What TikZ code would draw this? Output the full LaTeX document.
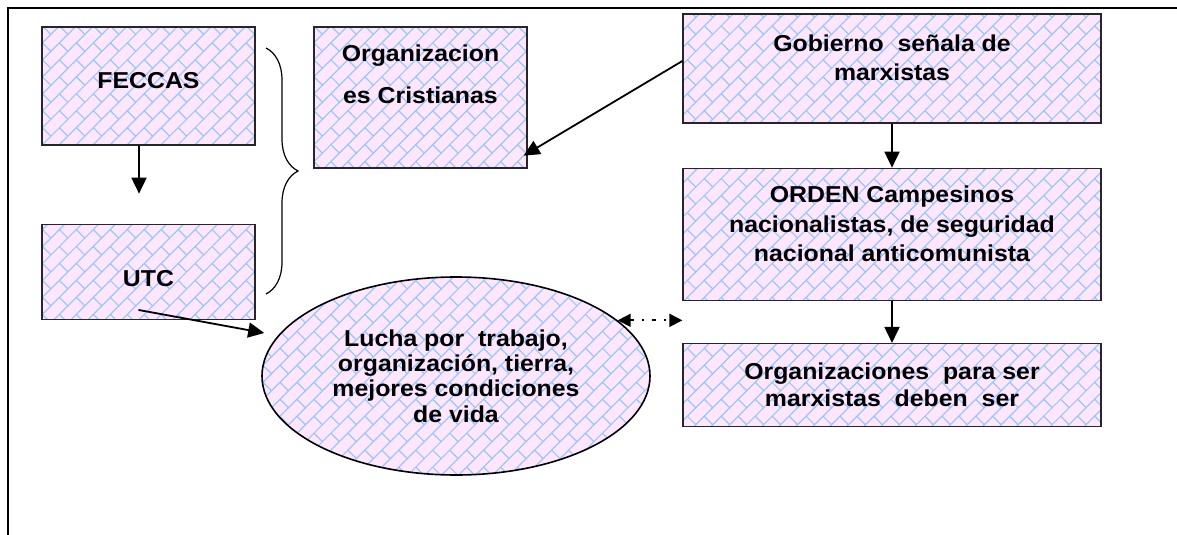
\documentclass[tikz,border=0pt]{standalone}
\usepackage{fontspec}
\setmainfont{Liberation Sans}[FakeStretch=1.08]
\usetikzlibrary{arrows.meta, positioning, shapes.geometric, decorations.pathreplacing, patterns.meta}

\definecolor{boxpink}{RGB}{255,230,255}
\definecolor{brickblue}{RGB}{150,200,250}

\tikzdeclarepattern{
  name=bricks,
  type=colored,
  bottom left={(-.1pt,-.1pt)},
  top right={(24.1pt,24.1pt)},
  tile size={(24pt,24pt)},
  tile transformation={rotate=45},
  code={
    \draw[brickblue, line width=1.2pt]
      (0pt,6pt) -- (24pt,6pt) (0pt,18pt) -- (24pt,18pt)
      (6pt,6pt) -- (6pt,18pt)
      (18pt,18pt) -- (18pt,24pt) (18pt,0pt) -- (18pt,6pt);
  }
}

\begin{document}
\begin{tikzpicture}[x=1pt, y=-1pt,
  box/.style={rectangle, draw=black!85, line width=1.3pt, preaction={fill=boxpink},
    pattern=bricks, align=center, inner sep=0pt, minimum width=418pt,
    font=\bfseries\fontsize{23}{29.5}\selectfont},
  arr/.style={-{Triangle[length=16pt,width=15pt]}, line width=1.8pt},
  ddarr/.style={{Triangle[length=13pt,width=13pt]}-{Triangle[length=13pt,width=13pt]},
    line width=1.8pt, dash pattern=on 4pt off 8pt on 2pt off 8pt}]

  \useasboundingbox (0,0) rectangle (1177,535);
  \draw[line width=2pt] (1190,8) -- (8,8) -- (8,545);

  % left column
  \node[box, minimum width=213pt, minimum height=118pt, text depth=12pt] (feccas) at (148.5,86) {FECCAS};
  \node[box, minimum width=213pt, minimum height=95pt, text height=29.5pt, text depth=0pt,
    below=78pt of feccas] (utc) {UTC};
  \node[box, minimum width=213pt, minimum height=141pt] (orgc) at (420.5,97.5)
    {Organizacion\\[12.5pt]es Cristianas\vspace{46pt}};

  % right column
  \node[box, minimum height=109pt] (gob) at (892,68.5) {Gobierno~ señala de\\marxistas\vspace{21pt}};
  \node[box, minimum height=132pt, below=44pt of gob] (orden)
    {ORDEN Campesinos\\nacionalistas, de seguridad\\nacional anticomunista\vspace{21pt}};
  \node[box, minimum height=83pt, below=42pt of orden] (elim)
    {Organizaciones~ para ser\\[-2.5pt]marxistas~ deben~ ser};

  \node[ellipse, draw=black, line width=1.6pt, preaction={fill=boxpink}, pattern=bricks,
    minimum width=388pt, minimum height=198pt, inner sep=0pt, align=center,
    font=\bfseries\fontsize{23}{25.3}\selectfont] (lucha) at (456,376)
    {Lucha por~ trabajo,\\organización, tierra,\\mejores condiciones\\de vida};

  \draw[decorate, decoration={brace, amplitude=32pt}, line width=1.2pt] (266,48) -- (266,294);

  \draw[arr] ([xshift=-9.5pt]feccas.south) -- ++(0,48);
  \draw[arr] ([shift={(-10pt,10pt)}]utc.south) -- ([shift={(3pt,43pt)}]lucha.west);
  \draw[arr] ([yshift=7.5pt]gob.west) -- ([shift={(-4pt,13pt)}]orgc.south east);
  \draw[arr] (gob) -- (orden);
  \draw[arr] (orden) -- (elim);
  \draw[ddarr] (lucha.19) -- (lucha.19 -| elim.west);
\end{tikzpicture}
\end{document}
